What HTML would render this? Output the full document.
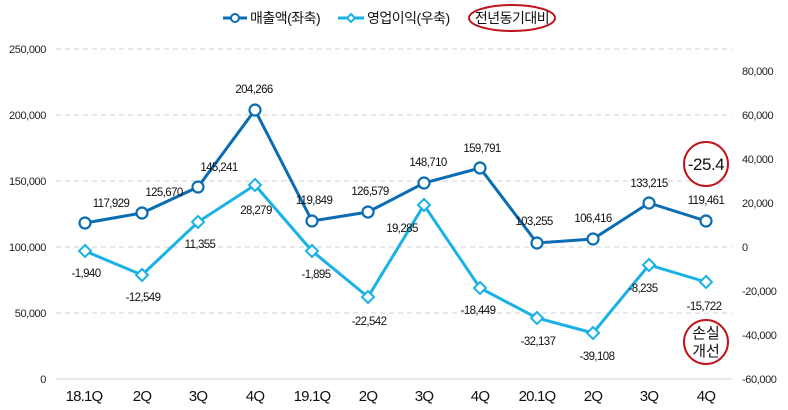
<!DOCTYPE html>
<html><head><meta charset="utf-8"><style>
body{margin:0;background:#fff;}
svg{display:block;font-family:"Liberation Sans","Noto Sans CJK KR",sans-serif;}
.t{font-size:11.5px;fill:#111;letter-spacing:-0.6px;}
.ax{font-size:11px;fill:#222;letter-spacing:-0.4px;}
.cat{font-size:15px;fill:#111;letter-spacing:-0.8px;}
</style></head><body>
<svg width="788" height="410" viewBox="0 0 788 410">
<g stroke="#d0d0d0" stroke-dasharray="5,4" stroke-width="1">
<line x1="56" y1="49" x2="732" y2="49"/><line x1="56" y1="115" x2="732" y2="115"/>
<line x1="56" y1="181" x2="732" y2="181"/><line x1="56" y1="247" x2="732" y2="247"/>
<line x1="56" y1="313" x2="732" y2="313"/>
</g>
<line x1="56" y1="379" x2="732" y2="379" stroke="#cfcfcf"/>
<g class="ax" text-anchor="end">
<text x="46" y="53">250,000</text><text x="46" y="119">200,000</text><text x="46" y="185">150,000</text>
<text x="46" y="251">100,000</text><text x="46" y="317">50,000</text><text x="46" y="383">0</text>
</g>
<g class="ax" text-anchor="start">
<text x="742" y="75">80,000</text><text x="742" y="119">60,000</text><text x="742" y="163">40,000</text>
<text x="742" y="207">20,000</text><text x="742" y="251">0</text><text x="742" y="295">-20,000</text>
<text x="742" y="339">-40,000</text><text x="742" y="383">-60,000</text>
</g>
<g class="cat" text-anchor="middle">
<text x="84" y="401">18.1Q</text><text x="142" y="401">2Q</text><text x="198" y="401">3Q</text><text x="255" y="401">4Q</text>
<text x="312" y="401">19.1Q</text><text x="368" y="401">2Q</text><text x="424" y="401">3Q</text><text x="480" y="401">4Q</text>
<text x="537" y="401">20.1Q</text><text x="593" y="401">2Q</text><text x="649" y="401">3Q</text><text x="706" y="401">4Q</text>
</g>
<polyline fill="none" stroke="#1ab2e6" stroke-width="3" points="85,251 142,275 198,222 255,185 312,251 368,297 424,205 480,288 537,318 593,333 649,265 706,282"/>
<g fill="#fff" stroke="#1ab2e6" stroke-width="2">
<polygon points="85,245 91,251 85,257 79,251"/><polygon points="142,269 148,275 142,281 136,275"/>
<polygon points="198,216 204,222 198,228 192,222"/><polygon points="255,179 261,185 255,191 249,185"/>
<polygon points="312,245 318,251 312,257 306,251"/><polygon points="368,291 374,297 368,303 362,297"/>
<polygon points="424,199 430,205 424,211 418,205"/><polygon points="480,282 486,288 480,294 474,288"/>
<polygon points="537,312 543,318 537,324 531,318"/><polygon points="593,327 599,333 593,339 587,333"/>
<polygon points="649,259 655,265 649,271 643,265"/><polygon points="706,276 712,282 706,288 700,282"/>
</g>
<polyline fill="none" stroke="#0a6db3" stroke-width="3" points="85,223 142,213 198,187 255,110 312,221 368,212 424,183 480,168 537,243 593,239 649,203 706,221"/>
<g fill="#fff" stroke="#0a6db3" stroke-width="2.2">
<circle cx="85" cy="223" r="5.5"/><circle cx="142" cy="213" r="5.5"/><circle cx="198" cy="187" r="5.5"/>
<circle cx="255" cy="110" r="5.5"/><circle cx="312" cy="221" r="5.5"/><circle cx="368" cy="212" r="5.5"/>
<circle cx="424" cy="183" r="5.5"/><circle cx="480" cy="168" r="5.5"/><circle cx="537" cy="243" r="5.5"/>
<circle cx="593" cy="239" r="5.5"/><circle cx="649" cy="203" r="5.5"/><circle cx="706" cy="221" r="5.5"/>
</g>
<g class="t" text-anchor="middle">
<text x="111" y="207">117,929</text><text x="164" y="196">125,670</text><text x="219" y="171">145,241</text>
<text x="254" y="93">204,266</text><text x="314" y="204">119,849</text><text x="370" y="195">126,579</text>
<text x="428" y="166">148,710</text><text x="482" y="152">159,791</text><text x="534" y="225">103,255</text>
<text x="593" y="222">106,416</text><text x="649" y="187">133,215</text><text x="706" y="204">119,461</text>
<text x="86" y="277">-1,940</text><text x="143" y="301">-12,549</text><text x="200" y="248">11,355</text>
<text x="256" y="214">28,279</text><text x="316" y="278">-1,895</text><text x="369" y="325">-22,542</text>
<text x="402" y="232">19,285</text><text x="478" y="314">-18,449</text><text x="538" y="345">-32,137</text>
<text x="597" y="360">-39,108</text><text x="643" y="292">-8,235</text><text x="704" y="310">-15,722</text>
</g>
<g font-size="14" fill="#111" letter-spacing="-0.5">
<line x1="223" y1="18" x2="247" y2="18" stroke="#0a6db3" stroke-width="3"/>
<circle cx="235" cy="18" r="4" fill="#fff" stroke="#0a6db3" stroke-width="2"/>
<text x="250" y="23">매출액(좌축)</text>
<line x1="338" y1="18" x2="364" y2="18" stroke="#1ab2e6" stroke-width="3"/>
<polygon points="351,14 355,18 351,22 347,18" fill="#fff" stroke="#1ab2e6" stroke-width="2"/>
<text x="367" y="23">영업이익(우축)</text>
<ellipse cx="512" cy="18" rx="43" ry="13" fill="none" stroke="#c0151b" stroke-width="2"/>
<text x="512" y="23" text-anchor="middle">전년동기대비</text>
</g>
<circle cx="706" cy="164" r="22" fill="#fff" stroke="#c0151b" stroke-width="2"/>
<text x="706" y="170" font-size="17" text-anchor="middle" fill="#111" letter-spacing="-0.5">-25.4</text>
<circle cx="706" cy="342" r="22" fill="#fff" stroke="#c0151b" stroke-width="2"/>
<text x="706" y="338" font-size="15" text-anchor="middle" fill="#111">손실</text>
<text x="706" y="356" font-size="15" text-anchor="middle" fill="#111">개선</text>
</svg>
</body></html>
